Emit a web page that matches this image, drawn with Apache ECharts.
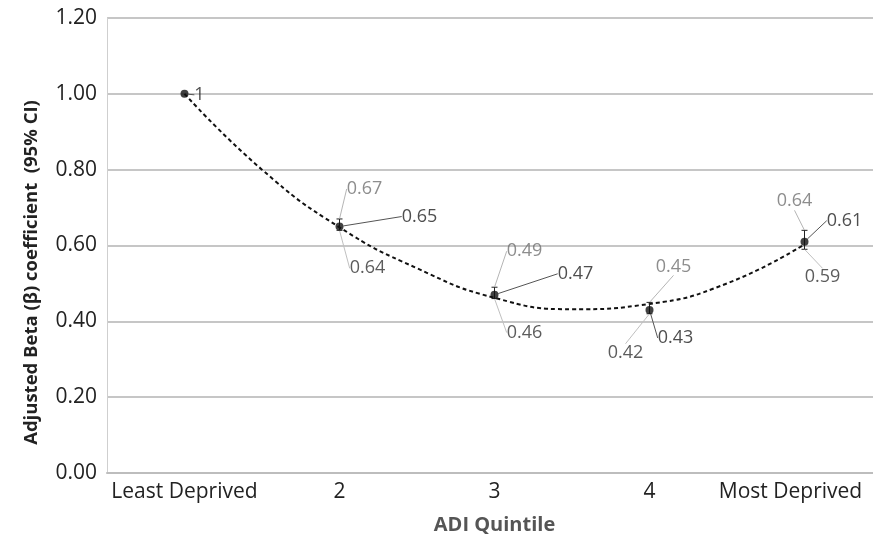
<!DOCTYPE html>
<html>
<head>
<meta charset="utf-8">
<script src="https://cdn.jsdelivr.net/npm/echarts@6/dist/echarts.min.js"></script>
<style>html,body{margin:0;padding:0;background:#fff}#c{width:873px;height:538px}</style>
</head>
<body>
<div id="c"></div>
<script>
// ---- data ----
var categories = ['Least Deprived', '2', '3', '4', 'Most Deprived'];
var betaValues = [1.00, 0.65, 0.47, 0.43, 0.61];
var ciUpper = [null, 0.67, 0.49, 0.45, 0.64];
var ciLower = [null, 0.64, 0.46, 0.42, 0.59];
// dotted trend curve at category positions and half-way points
var trendX = [0, 0.5, 1, 1.5, 2, 2.5, 3, 3.5, 4];
var trendY = [1.00, 0.80, 0.648, 0.54, 0.462, 0.432, 0.446, 0.50, 0.603];
var yTicks = ['0.00', '0.20', '0.40', '0.60', '0.80', '1.00', '1.20'];

// ---- label placement (style, not data) ----
var mainOffsets = [[15, 1], [80, -10], [81, -21], [26, 28], [40, -21]];
var upperOffsets = [null, [25, -30], [30, -36], [24, -36], [-10, -29]];
var lowerOffsets = [null, [28, 38], [30, 34], [-24, 39], [18, 28]];

var FONT = "'Open Sans', 'Noto Sans', sans-serif";

function offsetLayout(offs) {
  return function (p) {
    var o = offs[p.dataIndex];
    if (!o) return {};
    return { dx: o[0], dy: o[1] };
  };
}

function labelSeries(values, offs, color, lineColor) {
  return {
    type: 'scatter',
    data: values.map(function (v) { return v == null ? '-' : v; }),
    symbol: 'circle',
    symbolSize: 1,
    itemStyle: { color: 'transparent' },
    z: 5,
    silent: true,
    label: {
      show: true,
      position: 'inside',
      color: color,
      fontFamily: FONT,
      fontSize: 18,
      formatter: function (p) { return p.value.toFixed(2); }
    },
    labelLine: { show: true, lineStyle: { color: lineColor, width: 1 } },
    labelLayout: offsetLayout(offs)
  };
}

var axisCats = categories.map(function (c, i) {
  if (i === categories.length - 1) {
    return { value: c, textStyle: { padding: [0, 28, 0, 0] } };
  }
  return c;
});

var chart = echarts.init(document.getElementById('c'));
chart.setOption({
  animation: false,
  backgroundColor: '#fff',
  grid: { left: 107, top: 18, bottom: 65, width: 775, outerBoundsMode: 'none', containLabel: false },
  xAxis: [{
    type: 'category',
    data: axisCats,
    boundaryGap: true,
    axisLine: { onZero: false, lineStyle: { color: '#bdbdbd', width: 2 } },
    axisTick: { show: false },
    axisLabel: { color: '#222', fontFamily: FONT, fontSize: 21, margin: 9, interval: 0 },
    name: 'ADI Quintile',
    nameLocation: 'middle',
    nameGap: 42,
    nameTextStyle: { color: '#555', fontFamily: FONT, fontSize: 20, fontWeight: 'bold' }
  }, {
    type: 'value',
    min: -0.5, max: 4.5,
    show: false,
    axisLine: { onZero: false },
    splitLine: { show: false }
  }],
  yAxis: {
    type: 'value',
    min: 0, max: 1.2, interval: 0.2,
    axisLine: { show: true, onZero: false, lineStyle: { color: '#cfcfcf', width: 1 } },
    axisTick: { show: false },
    splitLine: { lineStyle: { color: '#b3b3b3', width: 1.5 } },
    axisLabel: {
      color: '#222', fontFamily: FONT, fontSize: 21, margin: 10,
      formatter: function (v) { return yTicks[Math.round(v / 0.2)]; }
    },
    name: 'Adjusted Beta (\u03b2) coefficient  (95% CI)',
    nameLocation: 'middle',
    nameGap: 66,
    nameTextStyle: { color: '#222', fontFamily: FONT, fontSize: 18.5, fontWeight: 'bold', padding: [0, 54, 0, 0] }
  },
  series: [
    {
      type: 'line',
      xAxisIndex: 1,
      data: trendX.map(function (x, i) { return [x, trendY[i]]; }),
      smooth: 0.5,
      showSymbol: false,
      symbol: 'none',
      silent: true,
      lineStyle: { color: '#111', width: 2, type: [4, 3] },
      z: 2
    },
    {
      type: 'custom',
      silent: true,
      z: 3,
      data: categories.map(function (c, i) { return [i, ciLower[i], ciUpper[i]]; }).filter(function (d) { return d[1] != null; }),
      renderItem: function (params, api) {
        var lo = api.coord([api.value(0), api.value(1)]);
        var hi = api.coord([api.value(0), api.value(2)]);
        var w = 3;
        var st = { stroke: '#222', lineWidth: 1 };
        return {
          type: 'group',
          children: [
            { type: 'line', shape: { x1: lo[0], y1: lo[1], x2: hi[0], y2: hi[1] }, style: st },
            { type: 'line', shape: { x1: hi[0] - w, y1: hi[1], x2: hi[0] + w, y2: hi[1] }, style: st },
            { type: 'line', shape: { x1: lo[0] - w, y1: lo[1], x2: lo[0] + w, y2: lo[1] }, style: st }
          ]
        };
      }
    },
    {
      type: 'scatter',
      data: betaValues,
      symbol: 'circle',
      symbolSize: 8,
      itemStyle: { color: '#111' },
      z: 6,
      silent: true,
      label: {
        show: true,
        position: 'inside',
        color: '#222',
        fontFamily: FONT,
        fontSize: 18,
        formatter: function (p) { return p.dataIndex === 0 ? '1' : p.value.toFixed(2); }
      },
      labelLine: { show: true, lineStyle: { color: '#555', width: 1 } },
      labelLayout: offsetLayout(mainOffsets)
    },
    labelSeries(ciUpper, upperOffsets, '#707070', '#b5b5b5'),
    labelSeries(ciLower, lowerOffsets, '#333', '#c0c0c0')
  ]
});
</script>
</body>
</html>
